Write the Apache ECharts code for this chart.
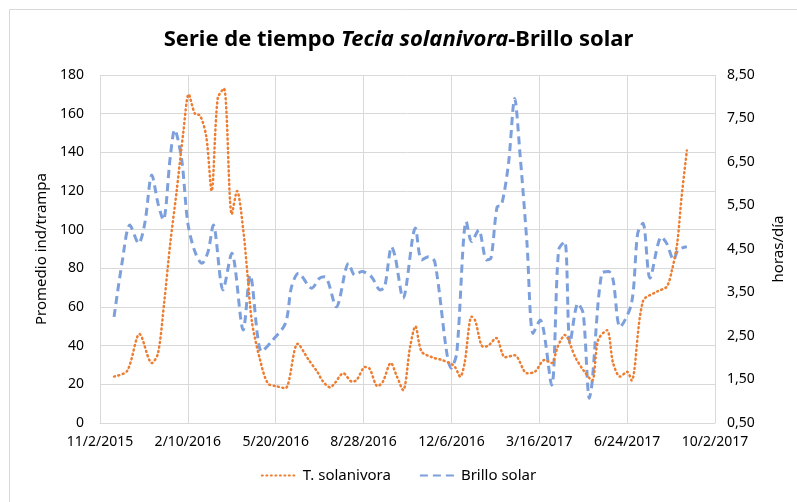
<!DOCTYPE html>
<html>
<head>
<meta charset="utf-8">
<script src="https://cdn.jsdelivr.net/npm/echarts@6/dist/echarts.min.js"></script>
<style>
  html, body { margin: 0; padding: 0; background: #fff; }
  #chart { width: 797px; height: 502px; }
</style>
</head>
<body>
<div id="chart"></div>
<script>
// days counted from 11/2/2015
const startDate = Date.UTC(2015, 10, 2)
const dayMs = 24 * 3600 * 1000

// T. solanivora (left axis, promedio ind/trampa)
const solanivoraDays = [16, 31, 45, 59, 66, 73, 80, 87, 95, 101, 108, 114, 121, 127, 134, 141, 150, 156, 163, 168, 173, 182, 191, 201, 211, 225, 237, 248, 253, 262, 267, 277, 287, 292, 302, 307, 316, 322, 331, 338, 345, 353, 359, 366, 378, 389, 398, 404, 410, 415, 423, 427, 436, 442, 451, 461, 472, 486, 495, 506, 514, 521, 529, 541, 550, 560, 567, 577, 584, 592, 600, 605, 618, 634, 645, 651, 657, 662, 668]
const solanivoraValues = [24, 27, 46, 31, 36, 62, 93, 119, 151, 170, 160, 159, 148, 120, 168, 173, 108, 120, 100, 76, 52, 33, 20.5, 19, 18, 41, 33, 26, 22, 18.4, 20.5, 25.7, 21.4, 22.2, 29, 28, 19, 21.4, 31, 24, 17, 39.5, 50, 37, 34, 32.6, 31, 29, 24, 31, 55, 53, 39.5, 40, 44, 34, 35, 25.7, 26.5, 32.6, 31, 39.5, 45.5, 34, 27.4, 22, 43, 48, 31, 24, 26.5, 22, 63, 68, 70.5, 79, 93, 117, 141]

// Brillo solar (right axis, horas/día)
const brilloDays = [16, 25, 34, 44, 51, 59, 66, 72, 80, 85, 93, 100, 108, 116, 123, 129, 140, 150, 163, 171, 184, 195, 211, 218, 226, 241, 250, 256, 269, 283, 290, 298, 309, 319, 324, 332, 336, 345, 359, 366, 374, 381, 400, 406, 417, 423, 431, 440, 445, 452, 457, 465, 472, 478, 486, 493, 501, 514, 522, 529, 535, 544, 550, 557, 560, 571, 579, 584, 592, 605, 612, 618, 626, 639, 645, 653, 658, 668]
const brilloValues = [2.94, 4.17, 5.05, 4.63, 5.09, 6.2, 5.55, 5.17, 6.62, 7.24, 6.55, 5.09, 4.44, 4.17, 4.44, 5.05, 3.56, 4.4, 2.64, 3.9, 2.14, 2.37, 2.79, 3.63, 3.94, 3.6, 3.83, 3.86, 3.17, 4.17, 3.9, 3.98, 3.86, 3.56, 3.63, 4.55, 4.32, 3.37, 4.98, 4.25, 4.32, 4.21, 1.76, 2.1, 5.13, 4.67, 4.94, 4.25, 4.29, 5.47, 5.51, 6.47, 7.96, 6.7, 4.63, 2.56, 2.87, 1.37, 4.48, 4.67, 2.33, 3.25, 3.02, 1.07, 1.41, 3.94, 3.98, 3.79, 2.71, 3.25, 4.86, 5.09, 3.83, 4.78, 4.63, 4.25, 4.48, 4.55]

const leftAxis = { min: 0, max: 180, interval: 20 }
const rightAxis = { min: 0.5, max: 8.5, interval: 1 }

function dayLabel(d) {
  const dt = new Date(startDate + d * dayMs)
  return (dt.getUTCMonth() + 1) + '/' + dt.getUTCDate() + '/' + dt.getUTCFullYear()
}

const font = 'Noto Sans'
const chart = echarts.init(document.getElementById('chart'))

const option = {
  animation: false,
  textStyle: { fontFamily: font },
  title: {
    text: '{a|Serie de tiempo }{b|Tecia solanivora}{a|-Brillo solar}',
    left: 'center',
    top: 24,
    textStyle: {
      rich: {
        a: { fontFamily: font, fontSize: 22, fontWeight: 'bold', color: '#000' },
        b: { fontFamily: font, fontSize: 22, fontWeight: 'bold', fontStyle: 'italic', color: '#000' },
      },
    },
  },
  graphic: [{
    type: 'rect',
    shape: { x: 9.5, y: 9.5, width: 800, height: 500 },
    style: { fill: 'none', stroke: '#d9d9d9', lineWidth: 1 },
    silent: true,
  }],
  legend: {
    bottom: 14,
    left: 'center',
    itemWidth: 36,
    itemHeight: 12,
    itemGap: 28,
    itemStyle: { opacity: 0 },
    textStyle: { fontFamily: font, fontSize: 15, color: '#000' },
    data: ['T. solanivora', 'Brillo solar'],
  },
  grid: { left: 100, right: 82, top: 75, bottom: 79 },
  xAxis: {
    type: 'value',
    min: 0,
    max: 700,
    interval: 100,
    axisLine: { show: true, lineStyle: { color: '#d9d9d9' } },
    axisTick: { show: false },
    axisLabel: {
      margin: 12,
      fontSize: 14,
      color: '#000',
      formatter: dayLabel,
    },
    splitLine: { show: true, lineStyle: { color: '#d9d9d9', width: 1 } },
  },
  yAxis: [
    {
      type: 'value',
      min: leftAxis.min,
      max: leftAxis.max,
      interval: leftAxis.interval,
      name: 'Promedio ind/trampa',
      nameLocation: 'middle',
      nameGap: 48,
      nameTextStyle: { fontFamily: font, fontSize: 15, color: '#000' },
      axisLine: { show: false },
      axisTick: { show: false },
      axisLabel: { margin: 16, fontSize: 14, color: '#000' },
      splitLine: { show: true, lineStyle: { color: '#d9d9d9', width: 1 } },
    },
    {
      type: 'value',
      position: 'right',
      min: rightAxis.min,
      max: rightAxis.max,
      interval: rightAxis.interval,
      name: 'horas/día',
      nameLocation: 'middle',
      nameGap: 56,
      nameTextStyle: { fontFamily: font, fontSize: 15, color: '#000' },
      axisLine: { show: false },
      axisTick: { show: false },
      axisLabel: {
        margin: 12,
        fontSize: 14,
        color: '#000',
        formatter: (v) => v.toFixed(2).replace('.', ','),
      },
      splitLine: { show: false },
    },
  ],
  series: [
    {
      name: 'T. solanivora',
      type: 'line',
      yAxisIndex: 0,
      smooth: 0.3,
      symbol: 'none',
      color: '#ED7D31',
      lineStyle: { width: 2.5, type: [1, 3.5], cap: 'round', color: '#ED7D31' },
      data: solanivoraDays.map((d, i) => [d, solanivoraValues[i]]),
      z: 3,
    },
    {
      name: 'Brillo solar',
      type: 'line',
      yAxisIndex: 1,
      smooth: 0.3,
      symbol: 'none',
      color: '#7DA0DC',
      lineStyle: { width: 3, type: [8, 5], color: '#7DA0DC' },
      data: brilloDays.map((d, i) => [d, brilloValues[i]]),
      z: 2,
    },
  ],
}

chart.setOption(option)
</script>
</body>
</html>
